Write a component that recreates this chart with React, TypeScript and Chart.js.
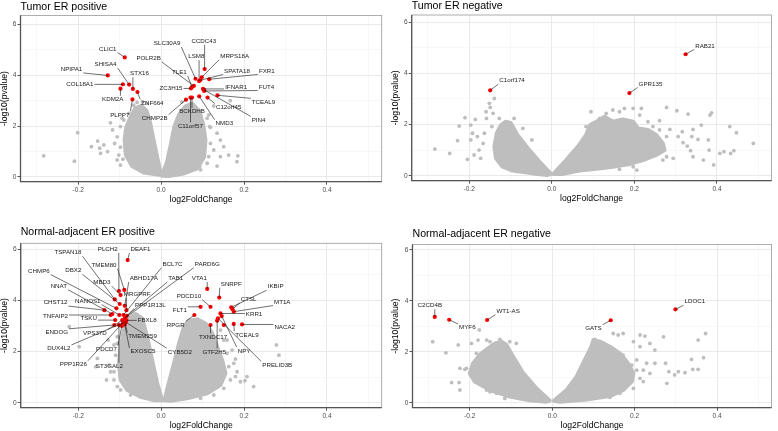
import React, { useEffect, useRef } from 'react';
import { Chart, registerables } from 'chart.js';

Chart.register(...registerables);

type Pt = [number, number];
// [gene, log2FoldChange, -log10(pvalue), label x, label y]
type Gene = [string, number, number, number, number];

const FONT = '"Liberation Sans", Arial, Helvetica, sans-serif';
const GRAY = '#bebebe';
const RED = '#ff0000';

const X_RANGE: Pt = [-0.339, 0.532];
const X_MAJOR = [-0.2, 0, 0.2, 0.4];
const X_MINOR = [-0.3, -0.1, 0.1, 0.3, 0.5];
const Y_MAJOR = [0, 2, 4, 6];
const Y_MINOR = [1, 3, 5];
const X_TITLE = 'log2FoldChange';
const Y_TITLE = '-log10(pvalue)';

const TITLES = [
  'Tumor ER positive',
  'Tumor ER negative',
  'Normal-adjacent ER positive',
  'Normal-adjacent ER negative',
];

// ---------- Tumor ER positive ----------
const P1_CLOUD_LEFT: Pt[] = [
  [0.0, 0.08], [-0.042, 0.18], [-0.07, 0.43], [-0.085, 0.86], [-0.088, 1.45], [-0.084, 1.95],
  [-0.074, 2.34], [-0.062, 2.7], [-0.048, 2.8], [-0.035, 2.6], [-0.027, 2.17], [-0.018, 1.45], [-0.008, 0.67],
];
const P1_CLOUD_RIGHT: Pt[] = [
  [0.002, 0.05], [0.0145, 0.6], [0.024, 1.32], [0.032, 1.98], [0.043, 2.44], [0.059, 2.78], [0.075, 2.88],
  [0.091, 2.61], [0.101, 2.11], [0.107, 1.45], [0.104, 0.8], [0.087, 0.34], [0.055, 0.14], [0.018, 0.04],
];
const P1_SCATTER: Pt[] = [
  [-0.283, 0.83], [-0.209, 0.62], [-0.201, 1.74], [-0.168, 1.19], [-0.153, 1.41], [-0.148, 1.13],
  [-0.146, 0.93], [-0.138, 1.26], [-0.129, 1.0], [-0.122, 2.13], [-0.117, 1.85], [-0.112, 1.32],
  [-0.106, 1.58], [-0.102, 0.86], [-0.098, 1.98], [-0.098, 1.17], [-0.094, 2.31], [-0.092, 0.7],
  [-0.058, 2.93], [-0.066, 2.82], [-0.045, 2.96], [-0.034, 2.89],
  [-0.106, 0.67], [-0.098, 0.47], [-0.09, 2.24], [-0.078, 2.5],
  [0.111, 2.31], [0.119, 1.95], [0.135, 1.72], [0.143, 1.45], [0.151, 1.19], [0.127, 1.06],
  [0.143, 0.8], [0.163, 0.86], [0.183, 0.6], [0.167, 3.0], [0.127, 2.79], [0.115, 2.44],
  [0.095, 2.44], [0.117, 1.98], [0.185, 0.83], [0.135, 0.43], [0.093, 0.41], [0.05, 2.95],
  [0.111, 0.54], [0.115, 0.8], [0.119, 1.32], [0.095, 0.28],
];
const P1_GENES: Gene[] = [
  ['CLIC1', -0.0876, 4.7, -0.1285, 5.03],
  ['NPIPA1', -0.1285, 3.99, -0.216, 4.23],
  ['SHISA4', -0.077, 3.63, -0.134, 4.43],
  ['COL18A1', -0.092, 3.64, -0.196, 3.64],
  ['STX16', -0.068, 3.46, -0.052, 4.06],
  ['KDM2A', -0.098, 3.47, -0.1165, 3.05],
  ['ZNF664', -0.057, 3.34, -0.021, 2.91],
  ['PLPP7', -0.069, 3.05, -0.0996, 2.44],
  ['CHMP2B', 0.06, 3.04, -0.0153, 2.31],
  ['SLC30A9', 0.083, 3.86, 0.0145, 5.25],
  ['CCDC43', 0.105, 4.24, 0.103, 5.34],
  ['LSM8', 0.0916, 3.77, 0.085, 4.73],
  ['MRPS18A', 0.098, 3.92, 0.1775, 4.75],
  ['POLR2B', 0.079, 3.58, -0.03, 4.66],
  ['TLE1', 0.0745, 3.53, 0.044, 4.11],
  ['SPATA18', 0.094, 3.8, 0.183, 4.17],
  ['FXR1', 0.116, 3.84, 0.255, 4.17],
  ['ZC3H15', 0.072, 3.48, 0.024, 3.48],
  ['IFNAR1', 0.101, 3.46, 0.181, 3.54],
  ['FUT4', 0.104, 3.38, 0.254, 3.54],
  ['TCEAL9', 0.136, 3.21, 0.247, 2.95],
  ['C12orf45', 0.112, 3.12, 0.163, 2.74],
  ['BCKDHB', 0.0745, 3.12, 0.0747, 2.57],
  ['C11orf57', 0.071, 3.12, 0.0707, 2.0],
  ['NMD3', 0.092, 3.17, 0.1526, 2.11],
  ['PIN4', 0.104, 3.42, 0.235, 2.24],
];

// ---------- Tumor ER negative ----------
const P2_CLOUD_LEFT: Pt[] = [
  [-0.002, 0.07], [-0.03, 0.55], [-0.058, 1.07], [-0.083, 1.59], [-0.099, 2.05], [-0.111, 2.11],
  [-0.123, 1.98], [-0.133, 1.66], [-0.139, 1.13], [-0.135, 0.68], [-0.119, 0.35], [-0.095, 0.2],
  [-0.046, 0.09], [-0.01, 0.03],
];
const P2_CLOUD_RIGHT: Pt[] = [
  [0.004, 0.07], [0.035, 0.61], [0.063, 1.13], [0.083, 1.59], [0.093, 1.98], [0.108, 2.11],
  [0.128, 2.31], [0.148, 2.11], [0.172, 2.2], [0.197, 2.11], [0.209, 1.85], [0.233, 1.79],
  [0.253, 1.59], [0.269, 1.26], [0.273, 1.0], [0.253, 0.81], [0.221, 0.61], [0.189, 0.46],
  [0.148, 0.35], [0.108, 0.27], [0.067, 0.2], [0.027, 0.07],
];
const P2_SCATTER: Pt[] = [
  [-0.283, 1.04], [-0.247, 0.87], [-0.228, 1.37], [-0.224, 1.94], [-0.21, 2.27], [-0.204, 0.64],
  [-0.196, 1.98], [-0.192, 1.66], [-0.185, 2.2], [-0.188, 0.81], [-0.176, 1.0], [-0.172, 0.68],
  [-0.166, 1.26], [-0.159, 2.5], [-0.158, 2.24], [-0.151, 2.83], [-0.149, 2.67], [-0.145, 1.92],
  [-0.139, 3.02], [-0.142, 2.44], [-0.127, 2.24], [-0.091, 2.24], [-0.07, 1.85], [-0.048, 1.4],
  [-0.196, 1.4], [-0.18, 1.53], [-0.163, 1.66],
  [0.095, 2.5], [0.148, 2.57], [0.164, 2.5], [0.176, 2.63], [0.197, 2.63], [0.217, 2.63],
  [0.213, 2.37], [0.233, 2.11], [0.245, 1.92], [0.261, 2.15], [0.278, 2.67], [0.286, 1.81],
  [0.303, 2.54], [0.306, 1.53], [0.316, 1.72], [0.318, 1.29], [0.328, 1.16], [0.33, 2.41],
  [0.336, 0.98], [0.339, 1.53], [0.342, 0.74], [0.342, 1.81], [0.354, 1.42], [0.362, 1.98],
  [0.367, 0.61], [0.379, 1.4], [0.381, 1.0], [0.383, 2.37], [0.387, 2.46], [0.392, 0.42],
  [0.407, 0.87], [0.417, 0.94], [0.431, 1.92], [0.433, 0.87], [0.441, 0.98], [0.447, 1.68],
  [0.488, 1.26], [0.294, 0.68], [0.278, 0.74], [0.206, 0.22],
  [0.221, 1.53], [0.237, 1.26], [0.245, 0.94], [0.269, 0.61], [0.197, 0.35], [0.164, 0.25],
  [0.278, 1.53], [0.261, 1.79], [0.132, 2.44], [0.116, 2.24], [0.083, 1.92],
];
const P2_GENES: Gene[] = [
  ['RAB21', 0.324, 4.75, 0.371, 5.08],
  ['C1orf174', -0.149, 3.34, -0.096, 3.72],
  ['GPR135', 0.188, 3.23, 0.239, 3.59],
];

// ---------- Normal-adjacent ER positive ----------
const P3_CLOUD_LEFT: Pt[] = [
  [0.002, 0.1], [-0.0096, 0.76], [-0.022, 1.67], [-0.034, 2.58], [-0.046, 3.3], [-0.062, 3.47],
  [-0.078, 3.3], [-0.09, 2.84], [-0.098, 2.19], [-0.102, 1.54], [-0.098, 0.89], [-0.082, 0.5],
  [-0.05, 0.23], [-0.018, 0.1],
];
const P3_CLOUD_RIGHT: Pt[] = [
  [0.008, 0.1], [0.018, 0.76], [0.031, 1.54], [0.043, 2.32], [0.055, 2.97], [0.067, 3.21],
  [0.087, 3.26], [0.107, 3.1], [0.123, 2.71], [0.135, 2.19], [0.147, 1.67], [0.155, 1.15],
  [0.143, 0.69], [0.111, 0.37], [0.063, 0.17], [0.022, 0.08],
];
const P3_SCATTER: Pt[] = [
  [-0.222, 2.97], [-0.198, 2.19], [-0.154, 1.73], [-0.11, 1.86], [-0.114, 2.26], [-0.158, 1.41],
  [-0.122, 1.21], [-0.132, 0.89], [-0.128, 2.45], [-0.126, 1.47], [-0.106, 2.32], [-0.114, 1.21],
  [-0.106, 0.63], [-0.114, 0.89], [-0.098, 0.5], [-0.074, 0.3], [-0.106, 2.58], [-0.094, 3.04],
  [0.159, 2.45], [0.171, 2.06], [0.175, 1.54], [0.183, 1.21], [0.191, 0.82], [0.207, 1.02],
  [0.223, 0.63], [0.278, 2.26], [0.284, 1.86], [0.202, 0.86], [0.179, 1.71],
  [0.143, 2.84], [0.151, 2.45], [0.159, 1.93], [0.163, 1.41], [0.167, 0.89], [0.151, 0.56],
  [0.127, 0.3], [0.095, 0.17], [0.179, 1.02],
];
const P3_GENES: Gene[] = [
  ['DEAF1', -0.081, 5.58, -0.05, 6.0],
  ['PLCH2', -0.102, 4.37, -0.129, 6.0],
  ['TSPAN18', -0.112, 4.04, -0.225, 5.87],
  ['TMEM80', -0.089, 4.41, -0.138, 5.38],
  ['CHMP6', -0.108, 3.69, -0.295, 5.15],
  ['DBX2', -0.1, 3.86, -0.212, 5.16],
  ['ABHD17A', -0.088, 3.79, -0.042, 4.86],
  ['MBD3', -0.098, 4.21, -0.143, 4.71],
  ['NNAT', -0.118, 3.47, -0.247, 4.56],
  ['MRGPRF', -0.084, 3.62, -0.058, 4.24],
  ['CHST12', -0.137, 3.62, -0.255, 3.92],
  ['NANOS1', -0.101, 3.43, -0.177, 3.98],
  ['PPP1R13L', -0.083, 3.4, -0.026, 3.82],
  ['TNFAIP2', -0.122, 3.43, -0.255, 3.38],
  ['TSKU', -0.111, 3.23, -0.175, 3.3],
  ['FBXL8', -0.084, 3.22, -0.034, 3.21],
  ['ENDOG', -0.113, 3.04, -0.252, 2.75],
  ['VPS37D', -0.094, 3.23, -0.16, 2.72],
  ['TMEM259', -0.088, 3.19, -0.045, 2.6],
  ['DUX4L2', -0.092, 3.12, -0.247, 2.12],
  ['PDCD7', -0.095, 3.0, -0.132, 2.09],
  ['EXOSC5', -0.088, 3.06, -0.044, 2.0],
  ['CYB5D2', -0.086, 3.15, 0.045, 1.99],
  ['PPP1R26', -0.09, 3.17, -0.212, 1.5],
  ['ST3GAL2', -0.102, 3.04, -0.125, 1.42],
  ['BCL7C', -0.091, 3.43, 0.027, 5.42],
  ['PARD6G', -0.088, 3.3, 0.111, 5.42],
  ['TAB1', -0.086, 3.35, 0.035, 4.86],
  ['VTA1', 0.111, 4.45, 0.092, 4.86],
  ['SNRPF', 0.14, 4.11, 0.169, 4.64],
  ['PDCD10', 0.119, 3.75, 0.067, 4.17],
  ['FLT1', 0.095, 3.75, 0.045, 3.61],
  ['RPGR', 0.08, 3.43, 0.035, 3.04],
  ['IKBIP', 0.169, 3.73, 0.276, 4.54],
  ['CTSL', 0.172, 3.66, 0.211, 4.04],
  ['MT1A', 0.175, 3.56, 0.292, 3.94],
  ['KRR1', 0.143, 3.49, 0.224, 3.46],
  ['NACA2', 0.195, 3.06, 0.298, 2.94],
  ['TCEAL9', 0.175, 3.08, 0.207, 2.65],
  ['TXNDC17', 0.119, 3.04, 0.125, 2.57],
  ['GTF2H5', 0.135, 3.21, 0.128, 1.98],
  ['NPY', 0.146, 3.39, 0.2, 2.03],
  ['PRELID3B', 0.137, 3.3, 0.28, 1.47],
  ['', 0.151, 3.04, 0.151, 3.04],
];

// ---------- Normal-adjacent ER negative ----------
const P4_CLOUD_LEFT: Pt[] = [
  [-0.006, 0.08], [-0.038, 0.56], [-0.07, 1.15], [-0.095, 1.81], [-0.111, 2.27], [-0.123, 2.4],
  [-0.139, 2.33], [-0.172, 1.94], [-0.192, 1.55], [-0.2, 1.15], [-0.188, 0.83], [-0.151, 0.5],
  [-0.103, 0.24], [-0.054, 0.1], [-0.014, 0.04],
];
const P4_CLOUD_RIGHT: Pt[] = [
  [0.004, 0.08], [0.035, 0.5], [0.059, 1.02], [0.079, 1.68], [0.095, 2.2], [0.1, 2.46],
  [0.116, 2.4], [0.14, 2.2], [0.164, 1.94], [0.184, 1.55], [0.197, 1.15], [0.193, 0.83],
  [0.172, 0.5], [0.14, 0.26], [0.083, 0.13], [0.019, 0.04],
];
const P4_SCATTER: Pt[] = [
  [-0.29, 2.4], [-0.258, 1.96], [-0.244, 0.79], [-0.226, 0.79], [-0.224, 0.5], [-0.224, 1.35],
  [-0.212, 1.31], [-0.228, 2.27], [-0.196, 2.33], [-0.177, 2.86], [-0.18, 2.46], [-0.159, 2.46],
  [-0.151, 2.4], [-0.151, 0.43],
  [-0.184, 1.94], [-0.208, 1.35], [-0.159, 0.5], [-0.135, 0.37], [-0.115, 0.17], [-0.078, 0.17],
  [-0.087, 2.33], [-0.103, 2.4], [-0.127, 2.49],
  [0.148, 2.72], [0.16, 2.66], [0.172, 2.72], [0.197, 2.4], [0.213, 2.66], [0.225, 2.62],
  [0.237, 2.33], [0.249, 2.07], [0.213, 2.2], [0.229, 1.55], [0.249, 1.55], [0.275, 1.55],
  [0.27, 2.59], [0.283, 1.22], [0.297, 1.09], [0.306, 1.22], [0.322, 1.18], [0.338, 1.7],
  [0.341, 1.31], [0.354, 2.46], [0.354, 1.31], [0.367, 1.77], [0.372, 2.72], [0.278, 0.76],
  [0.237, 1.15], [0.221, 0.83],
  [0.104, 2.49], [0.124, 2.33], [0.148, 2.07], [0.172, 1.87], [0.193, 1.48], [0.205, 1.28],
  [0.213, 0.96], [0.197, 0.56], [0.164, 0.37], [0.14, 0.21], [0.205, 1.68], [0.221, 1.28],
];
const P4_GENES: Gene[] = [
  ['C2CD4B', -0.285, 3.37, -0.297, 3.81],
  ['MYF6', -0.25, 3.26, -0.206, 2.95],
  ['WT1-AS', -0.158, 3.25, -0.107, 3.6],
  ['GATS', 0.142, 3.24, 0.1, 2.92],
  ['LDOC1', 0.299, 3.67, 0.346, 3.97],
];

interface PanelCfg {
  title: string;
  x: number; y: number; w: number; h: number;
  area: { l: number; t: number; r: number; b: number };
  yRange: Pt;
  titleY: number;
  yTitleX: number;
  clouds: Pt[][];
  scatter: Pt[];
  genes: Gene[];
}

const PANELS: PanelCfg[] = [
  {
    title: TITLES[0], x: 0, y: 0, w: 389, h: 215,
    area: { l: 20.5, t: 15.5, r: 381.7, b: 181.7 }, yRange: [-0.185, 6.346],
    titleY: 9.5, yTitleX: 5, clouds: [P1_CLOUD_LEFT, P1_CLOUD_RIGHT], scatter: P1_SCATTER, genes: P1_GENES,
  },
  {
    title: TITLES[1], x: 389, y: 0, w: 389, h: 215,
    area: { l: 22.7, t: 15, r: 382.5, b: 180.7 }, yRange: [-0.196, 6.285],
    titleY: 8.5, yTitleX: 7, clouds: [P2_CLOUD_LEFT, P2_CLOUD_RIGHT], scatter: P2_SCATTER, genes: P2_GENES,
  },
  {
    title: TITLES[2], x: 0, y: 215, w: 389, h: 216,
    area: { l: 20.7, t: 28.3, r: 381.7, b: 192.7 }, yRange: [-0.196, 6.235],
    titleY: 20, yTitleX: 4.5, clouds: [P3_CLOUD_LEFT, P3_CLOUD_RIGHT], scatter: P3_SCATTER, genes: P3_GENES,
  },
  {
    title: TITLES[3], x: 389, y: 215, w: 389, h: 216,
    area: { l: 23.5, t: 29.5, r: 382.5, b: 192.7 }, yRange: [-0.196, 6.216],
    titleY: 21.5, yTitleX: 7, clouds: [P4_CLOUD_LEFT, P4_CLOUD_RIGHT], scatter: P4_SCATTER, genes: P4_GENES,
  },
];

const isIn = (v: number, list: number[]) => list.some((m) => Math.abs(m - v) < 1e-9);

function makeDecor(cfg: PanelCfg) {
  return {
    id: 'decor' + cfg.title.replace(/[^A-Za-z]/g, ''),
    afterDraw(chart: any) {
      const { ctx, chartArea: a, scales } = chart;
      const xs = scales.x;
      const ys = scales.y;
      ctx.save();
      // panel border
      ctx.strokeStyle = '#9a9a9a';
      ctx.lineWidth = 0.8;
      ctx.strokeRect(a.left, a.top, a.right - a.left, a.bottom - a.top);
      ctx.strokeStyle = '#555555';
      ctx.lineWidth = 1.3;
      ctx.beginPath();
      ctx.moveTo(a.left, a.top);
      ctx.lineTo(a.left, a.bottom);
      ctx.lineTo(a.right, a.bottom);
      ctx.stroke();

      // gene labels with segments
      ctx.font = `6.2px ${FONT}`;
      ctx.textAlign = 'center';
      ctx.textBaseline = 'middle';
      cfg.genes.forEach(([name, gx, gy, lx, ly]) => {
        if (!name) return;
        const px = xs.getPixelForValue(gx);
        const py = ys.getPixelForValue(gy);
        const tx = xs.getPixelForValue(lx);
        const ty = ys.getPixelForValue(ly);
        const tw = ctx.measureText(name).width;
        const bx0 = tx - tw / 2 - 1;
        const bx1 = tx + tw / 2 + 1;
        const by0 = ty - 3.6;
        const by1 = ty + 3.6;
        const cx = Math.min(Math.max(px, bx0), bx1);
        const cy = Math.min(Math.max(py, by0), by1);
        if (Math.hypot(cx - px, cy - py) > 3) {
          ctx.strokeStyle = '#111';
          ctx.lineWidth = 0.6;
          ctx.beginPath();
          ctx.moveTo(px, py);
          ctx.lineTo(cx, cy);
          ctx.stroke();
        }
        ctx.fillStyle = '#1a1a1a';
        ctx.fillText(name, tx, ty);
      });

      // titles
      ctx.fillStyle = '#000';
      ctx.font = `10.6px ${FONT}`;
      ctx.textAlign = 'left';
      ctx.textBaseline = 'alphabetic';
      ctx.fillText(cfg.title, a.left, cfg.titleY);

      ctx.font = `8.6px ${FONT}`;
      ctx.textAlign = 'center';
      ctx.textBaseline = 'middle';
      ctx.fillText(X_TITLE, (a.left + a.right) / 2, a.bottom + 17.5);

      ctx.translate(cfg.yTitleX, (a.top + a.bottom) / 2);
      ctx.rotate(-Math.PI / 2);
      ctx.fillText(Y_TITLE, 0, 0);
      ctx.restore();
    },
  };
}

function Panel({ cfg }: { cfg: PanelCfg }) {
  const ref = useRef<HTMLCanvasElement>(null);
  useEffect(() => {
    const canvas = ref.current;
    if (!canvas) return;
    const datasets: any[] = [];
    cfg.clouds.forEach((env) => {
      datasets.push({
        data: env.concat([env[0]]).map(([x, y]) => ({ x, y })),
        showLine: true,
        fill: 'shape',
        borderColor: GRAY,
        backgroundColor: GRAY,
        borderWidth: 4,
        borderJoinStyle: 'round',
        borderCapStyle: 'round',
        pointRadius: 0,
        tension: 0,
        order: 3,
      });
    });
    datasets.push({
      data: cfg.scatter.map(([x, y]) => ({ x, y })),
      showLine: false,
      pointRadius: 1.9,
      pointBackgroundColor: GRAY,
      pointBorderWidth: 0,
      order: 2,
    });
    datasets.push({
      data: cfg.genes.map((g) => ({ x: g[1], y: g[2] })),
      showLine: false,
      pointRadius: 2.1,
      pointBackgroundColor: RED,
      pointBorderWidth: 0,
      order: 1,
    });

    const xTicks = [...X_MAJOR, ...X_MINOR].sort((p, q) => p - q);
    const yTicks = [...Y_MAJOR, ...Y_MINOR].sort((p, q) => p - q);

    const chart = new Chart(canvas, {
      type: 'line',
      data: { datasets },
      options: {
        animation: false,
        responsive: false,
        devicePixelRatio: 1,
        events: [],
        layout: { padding: { left: 0, top: cfg.area.t, right: cfg.w - cfg.area.r, bottom: 0 } },
        plugins: { legend: { display: false }, tooltip: { enabled: false }, title: { display: false } },
        scales: {
          x: {
            type: 'linear',
            min: X_RANGE[0],
            max: X_RANGE[1],
            afterBuildTicks: (s: any) => {
              s.ticks = xTicks.map((v) => ({ value: v }));
            },
            afterFit: (s: any) => {
              s.height = cfg.h - cfg.area.b;
            },
            ticks: {
              autoSkip: false,
              maxRotation: 0,
              minRotation: 0,
              padding: 1.5,
              color: '#4d4d4d',
              font: { family: FONT, size: 6.6 },
              callback: (v: any) => (isIn(Number(v), X_MAJOR) ? Number(v).toFixed(1) : ''),
            },
            grid: {
              color: (c: any) => (c.tick && isIn(c.tick.value, X_MAJOR) ? '#e8e8e8' : '#f3f3f3'),
              lineWidth: (c: any) => (c.tick && isIn(c.tick.value, X_MAJOR) ? 0.9 : 0.6),
              tickColor: (c: any) => (c.tick && isIn(c.tick.value, X_MAJOR) ? '#444' : 'rgba(0,0,0,0)'),
              tickLength: 3,
              drawTicks: true,
            },
            border: { display: false },
          },
          y: {
            type: 'linear',
            min: cfg.yRange[0],
            max: cfg.yRange[1],
            afterBuildTicks: (s: any) => {
              s.ticks = yTicks.map((v) => ({ value: v }));
            },
            afterFit: (s: any) => {
              s.width = cfg.area.l;
            },
            ticks: {
              autoSkip: false,
              padding: 1,
              color: '#4d4d4d',
              font: { family: FONT, size: 6.6 },
              callback: (v: any) => (isIn(Number(v), Y_MAJOR) ? String(Number(v)) : ''),
            },
            grid: {
              color: (c: any) => (c.tick && isIn(c.tick.value, Y_MAJOR) ? '#e8e8e8' : '#f3f3f3'),
              lineWidth: (c: any) => (c.tick && isIn(c.tick.value, Y_MAJOR) ? 0.9 : 0.6),
              tickColor: (c: any) => (c.tick && isIn(c.tick.value, Y_MAJOR) ? '#444' : 'rgba(0,0,0,0)'),
              tickLength: 3,
              drawTicks: true,
            },
            border: { display: false },
          },
        },
      } as any,
      plugins: [makeDecor(cfg)],
    });
    return () => chart.destroy();
  }, [cfg]);

  return (
    <canvas
      ref={ref}
      width={cfg.w}
      height={cfg.h}
      style={{ position: 'absolute', left: cfg.x, top: cfg.y, width: cfg.w, height: cfg.h }}
    />
  );
}

export default function App() {
  return (
    <div style={{ position: 'fixed', left: 0, top: 0, width: 778, height: 431, background: '#fff' }}>
      {PANELS.map((p) => (
        <Panel key={p.title} cfg={p} />
      ))}
    </div>
  );
}
